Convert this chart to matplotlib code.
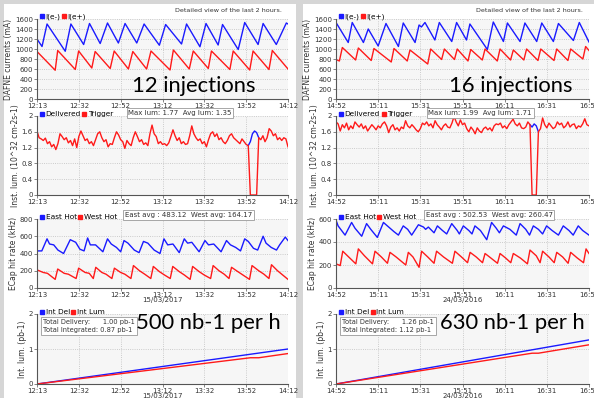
import numpy as np
import matplotlib
matplotlib.use("Agg")
import matplotlib.pyplot as plt
from matplotlib.lines import Line2D
from matplotlib.patches import Rectangle

# ---- x axis (minutes in the 2 h window) ----
tick_min = [0, 20, 40, 60, 80, 100, 120]
left_ticks = ["12:13", "12:32", "12:52", "13:12", "13:32", "13:52", "14:12"]
right_ticks = ["14:52", "15:11", "15:31", "15:51", "16:11", "16:31", "16:51"]
left_date = "15/03/2017"
right_date = "24/03/2016"

# ---- DAFNE currents, 2017 ----
l_ele_t = [0, 2.4, 4.8, 13.5, 16.2, 22.3, 25.1, 30.2, 33.7, 38.9, 42.1, 47.7, 51.2, 58.5,
           61.5, 69.1, 71.5, 77.9, 80.8, 86.6, 88.7, 96.2, 99.3, 105.7, 108.1, 114.4, 119.2, 120]
l_ele_v = [1200, 1050, 1500, 955, 1500, 1090, 1510, 1110, 1520, 1120, 1510, 1120, 1500, 1075,
           1490, 1100, 1500, 1045, 1510, 1080, 1490, 990, 1530, 1090, 1510, 1090, 1520, 1500]
l_pos_t = [0, 8.7, 9.9, 18.3, 19.9, 26.2, 27.8, 35.0, 36.9, 43.7, 45.8, 52.4, 54.5, 63.6,
           65.2, 72.8, 74.7, 81.9, 83.4, 92.2, 93.8, 101.7, 103.3, 110.9, 112.5, 120]
l_pos_v = [950, 575, 970, 590, 960, 620, 950, 610, 960, 600, 950, 600, 960, 580,
           980, 600, 960, 610, 960, 590, 960, 580, 960, 590, 970, 600]

# ---- DAFNE currents, 2016 ----
r_ele_t = [0, 5.8, 7.7, 13.0, 15.3, 20.0, 23.7, 29.6, 31.9, 37.5, 39.4, 40.5, 42.2, 46.9, 49.0,
           54.9, 57.2, 61.9, 63.5, 71.8, 74.6, 79.4, 81.3, 87.3, 89.6, 95.2, 97.6, 103.1, 105.5,
           112.6, 115.4, 120]
r_ele_v = [1530, 1130, 1530, 1130, 1400, 1060, 1510, 1050, 1520, 1130, 1480, 1440, 1530, 1180, 1530,
           1150, 1530, 1180, 1500, 990, 1540, 1150, 1520, 1150, 1520, 1150, 1520, 1150, 1510,
           1170, 1530, 1140]
r_pos_t = [0, 1.6, 3.0, 9.3, 10.6, 16.7, 18.0, 26.2, 27.5, 33.8, 35.1, 43.5, 44.9, 50.1, 51.4,
           56.2, 57.5, 62.6, 63.9, 69.4, 70.7, 76.5, 77.8, 82.8, 84.1, 89.1, 90.4, 95.8, 97.1,
           103.4, 104.7, 110.0, 111.3, 117.1, 118.4, 120]
r_pos_v = [790, 760, 1030, 780, 1020, 770, 1010, 740, 1010, 760, 980, 700, 1000, 790, 1000,
           790, 1000, 760, 990, 780, 1000, 760, 1000, 780, 980, 780, 1000, 770, 1000,
           770, 1000, 770, 1000, 800, 1050, 970]

# ---- instantaneous luminosity, one value per minute ----
l_lum = [1.62, 1.45, 1.42, 1.38, 1.44, 1.30, 1.35, 1.22, 1.28, 1.15, 1.30, 1.55, 1.48, 1.40, 1.45,
         1.32, 1.38, 1.25, 1.42, 1.20, 1.48, 1.62, 1.50, 1.38, 1.42, 1.30, 1.35, 1.25, 1.40, 1.55,
         1.60, 1.45, 1.35, 1.40, 1.22, 1.30, 1.28, 1.45, 1.60, 1.52, 1.40, 1.35, 1.18, 1.38, 1.30,
         1.25, 1.45, 1.60, 1.48, 1.35, 1.40, 1.28, 1.32, 1.25, 1.55, 1.77, 1.55, 1.48, 1.30, 1.35,
         1.28, 1.30, 1.25, 1.32, 1.48, 1.65, 1.50, 1.38, 1.45, 1.30, 1.35, 1.28, 1.30, 1.50, 1.75,
         1.55, 1.45, 1.38, 1.42, 1.30, 1.35, 1.22, 1.40, 1.55, 1.60, 1.48, 1.55, 1.40, 1.45, 1.35,
         1.30, 1.38, 1.50, 1.55, 1.45, 1.40, 1.35, 1.30, 1.42, 1.35, 1.28, 1.25, 1.35, 1.55, 1.62,
         1.58, 1.45, 1.40, 1.50, 1.35, 1.45, 1.68, 1.62, 1.50, 1.55, 1.40, 1.45, 1.38, 1.45, 1.42,
         1.22]
l_trig_off = [102, 103, 104, 105]
r_lum = [1.85, 1.80, 1.62, 1.78, 1.70, 1.82, 1.65, 1.75, 1.68, 1.85, 1.78, 1.72, 1.80, 1.68, 1.75,
         1.62, 1.70, 1.78, 1.72, 1.65, 1.75, 1.70, 1.80, 1.85, 1.75, 1.58, 1.72, 1.78, 1.65, 1.70,
         1.62, 1.72, 1.68, 1.88, 1.75, 1.70, 1.78, 1.72, 1.65, 1.60, 1.68, 1.82, 1.78, 1.85, 1.75,
         1.80, 1.70, 1.88, 1.78, 1.72, 1.65, 1.75, 1.80, 1.72, 1.70, 1.82, 1.99, 1.85, 1.75, 1.90,
         1.78, 1.82, 1.68, 1.60, 1.72, 1.65, 1.55, 1.70, 1.62, 1.58, 1.68, 1.72, 1.65, 1.70, 1.62,
         1.75, 1.80, 1.78, 1.82, 1.70, 1.75, 1.68, 1.78, 1.85, 1.92, 1.80, 1.75, 1.82, 1.70, 1.68,
         1.72, 1.85, 1.78, 1.72, 1.80, 1.75, 1.60, 1.68, 1.95, 1.78, 1.70, 1.82, 1.75, 1.68, 1.72,
         1.85, 1.78, 1.82, 1.70, 1.75, 1.85, 1.72, 1.78, 1.80, 1.68, 1.75, 1.72, 1.80, 1.93, 1.78,
         1.75]
r_trig_off = [93, 94, 95]

# ---- ECap hit rates ----
l_east = [(0, 430), (2.3, 430), (4.8, 570), (6, 510), (8, 500), (10, 440), (12.7, 400), (15.9, 560),
          (18.5, 530), (20.5, 450), (22.5, 430), (24.2, 580), (25.5, 500), (28, 500), (31.5, 420),
          (33.7, 570), (35.5, 510), (38, 470), (40, 420), (41.6, 550), (43.5, 520), (46.5, 440),
          (48.8, 410), (50.9, 540), (53, 520), (56, 440), (58.8, 400), (60.7, 570), (62.5, 500),
          (65, 510), (68, 410), (70.4, 570), (72, 520), (74, 530), (77.5, 420), (80.3, 550),
          (82, 500), (84.5, 510), (88, 420), (90.6, 550), (92.5, 500), (95, 470), (97.3, 430),
          (99.3, 570), (101, 540), (103.5, 460), (105.5, 440), (108.1, 600), (109.5, 520),
          (112, 470), (114.5, 440), (116, 500), (118.7, 590), (120, 550)]
l_west = [(0, 210), (3, 180), (5, 170), (8.7, 100), (9.9, 220), (13, 170), (15, 160), (18.7, 110),
          (19.9, 230), (23, 180), (25, 170), (26.9, 110), (28.1, 240), (31, 180), (33, 160),
          (35.8, 110), (37, 230), (40, 180), (42, 160), (44.9, 110), (46.1, 260), (49, 200),
          (51.5, 160), (54.4, 110), (55.6, 250), (58.5, 190), (61, 150), (63.7, 110), (64.9, 250),
          (68, 190), (70.5, 150), (73.2, 100), (74.4, 250), (77.5, 190), (80, 150), (83, 110),
          (84.2, 260), (87, 200), (89.5, 160), (91.8, 110), (93, 240), (96, 190), (98.5, 150),
          (101.6, 100), (102.8, 260), (106, 200), (108.5, 160), (110.9, 110), (112.1, 270),
          (115, 200), (118, 140), (120, 100)]
r_east = [(0, 590), (1, 540), (4.3, 460), (7.4, 570), (9, 520), (12.2, 450), (14.5, 560), (16.5, 510),
          (19.6, 440), (22.5, 570), (25, 530), (27.5, 490), (29.6, 460), (31.9, 540), (34, 510),
          (35.9, 460), (39.1, 550), (41.5, 530), (42.5, 510), (43.8, 530), (46.5, 480), (48.1, 540),
          (50.5, 500), (52.5, 470), (54.9, 560), (57.5, 500), (58.5, 470), (60.4, 540), (63, 500),
          (64.5, 470), (65.9, 540), (68.5, 500), (71.5, 420), (73.8, 570), (76, 520), (77.5, 480),
          (79.4, 540), (82.5, 510), (85.5, 460), (87.3, 560), (90, 510), (91.8, 460), (93.6, 540),
          (96, 510), (98, 470), (99.9, 540), (102.5, 500), (105.5, 460), (107.8, 540), (110.5, 500),
          (112.5, 460), (114.9, 540), (117, 500), (120, 460)]
r_west = [(0, 210), (2, 195), (3.2, 320), (6, 270), (9.4, 210), (10.6, 340), (13.5, 280), (17.3, 210),
          (18.5, 320), (21.5, 270), (24.4, 215), (25.6, 310), (28.5, 270), (33.1, 200), (34.3, 310),
          (36.5, 270), (39.4, 180), (40.6, 320), (43.5, 270), (46.5, 215), (47.7, 320), (51, 270),
          (55.2, 215), (56.4, 320), (59.5, 270), (62.4, 220), (63.6, 310), (66.5, 270), (69.5, 220),
          (70.7, 300), (73.5, 260), (76.6, 215), (77.8, 300), (80.5, 260), (82.9, 220), (84.1, 300),
          (87.5, 260), (90.8, 210), (92, 330), (95, 280), (96.8, 220), (98, 320), (101, 270),
          (103.5, 220), (104.7, 310), (107.5, 270), (110.1, 215), (111.3, 310), (114.5, 260),
          (117.4, 220), (118.6, 340), (120, 300)]

# ---- integrated luminosity ----
l_del_t, l_del_v = [0, 120], [0, 1.00]
l_int_t, l_int_v = [0, 102, 106, 120], [0, 0.75, 0.75, 0.87]
r_del_t, r_del_v = [0, 120], [0, 1.26]
r_int_t, r_int_v = [0, 93, 96, 120], [0, 0.88, 0.88, 1.12]

BLUE = "#1a1aff"
RED = "#ff1a1a"
W, H = 594, 398


def px_axes(fig, x0, x1, top, bot):
    return fig.add_axes([x0 / W, 1 - bot / H, (x1 - x0) / W, (bot - top) / H])


def style(ax, ylim, yticks, ylabels, xlabels, ylab, date=None):
    ax.set_facecolor("#f6f6f6")
    ax.set_xlim(0, 120)
    ax.set_ylim(*ylim)
    ax.set_xticks(tick_min)
    ax.set_xticklabels(xlabels)
    ax.set_yticks(yticks)
    ax.set_yticklabels(ylabels)
    ax.grid(True, color="#bdbdbd", linestyle=":", linewidth=0.6)
    for s in ["top", "right"]:
        ax.spines[s].set_visible(False)
    for s in ["left", "bottom"]:
        ax.spines[s].set_color("#555555")
        ax.spines[s].set_linewidth(0.8)
    ax.tick_params(labelsize=5, length=2, width=0.5, pad=1, colors="#555555", labelcolor="#333333")
    ax.set_ylabel(ylab, fontsize=5.5, labelpad=1, color="#333333")
    if date:
        ax.set_xlabel(date, fontsize=5, labelpad=-1, color="#333333")


def legend(ax, names):
    hs = [Line2D([], [], marker="s", color=c, linestyle="None", markersize=2.8) for c in (BLUE, RED)]
    ax.legend(hs, names, loc="center left", bbox_to_anchor=(0.015, 1.025), frameon=False, ncol=2,
              handlelength=0.4, handletextpad=0.25, columnspacing=0.3, fontsize=5.3, borderpad=0,
              borderaxespad=0.0)


def box(ax, x, y, txt):
    ax.text(x, y, txt, transform=ax.transAxes, ha="center", va="center", fontsize=5, color="#333333",
            bbox=dict(boxstyle="square,pad=0.25", fc="white", ec="#999999", lw=0.6), zorder=5)


fig = plt.figure(figsize=(W / 100, H / 100), dpi=100)
fig.patch.set_facecolor("#d6d6d6")
for cx, cw in [(4, 292), (303, 291)]:
    fig.patches.append(Rectangle((cx / W, 0), cw / W, 394 / H, transform=fig.transFigure,
                                 fc="white", ec="none", zorder=-10))

cols = [
    dict(x0=37, x1=288, xl=left_ticks, date=left_date, ele=(l_ele_t, l_ele_v), pos=(l_pos_t, l_pos_v),
         lum=l_lum, off=l_trig_off, lbox="Max lum: 1.77  Avg lum: 1.35", east=l_east, west=l_west,
         emax=800, ebox="East avg : 483.12  West avg: 164.17", dl=(l_del_t, l_del_v), il=(l_int_t, l_int_v),
         ibox="Total Delivery:      1.00 pb-1\nTotal Integrated: 0.87 pb-1",
         big1="12 injections", big2="500 nb-1 per h", b1x=194, b2x=208),
    dict(x0=336, x1=589, xl=right_ticks, date=right_date, ele=(r_ele_t, r_ele_v), pos=(r_pos_t, r_pos_v),
         lum=r_lum, off=r_trig_off, lbox="Max lum: 1.99  Avg lum: 1.71", east=r_east, west=r_west,
         emax=600, ebox="East avg : 502.53  West avg: 260.47", dl=(r_del_t, r_del_v), il=(r_int_t, r_int_v),
         ibox="Total Delivery:      1.26 pb-1\nTotal Integrated: 1.12 pb-1",
         big1="16 injections", big2="630 nb-1 per h", b1x=511, b2x=512),
]

for c in cols:
    # currents
    ax = px_axes(fig, c["x0"], c["x1"], 19, 99)
    style(ax, (0, 1600), range(0, 1601, 200), [str(v) for v in range(0, 1601, 200)], c["xl"],
          "DAFNE currents (mA)")
    ax.plot(*c["ele"], color=BLUE, lw=1.0)
    ax.plot(*c["pos"], color=RED, lw=1.0)
    legend(ax, ["I(e-)", "I(e+)"])
    fig.text((c["x1"] - 6) / W, 1 - 11 / H, "Detailed view of the last 2 hours.", fontsize=4.6,
             ha="right", va="center", color="#333333")
    fig.text(c["b1x"] / W, 1 - 86 / H, c["big1"], fontsize=15.8, family="Lato", ha="center", va="center",
             zorder=6)

    # instantaneous luminosity
    ax = px_axes(fig, c["x0"], c["x1"], 116, 195)
    style(ax, (0, 2), [0, 0.4, 0.8, 1.2, 1.6, 2], ["0", "0.4", "0.8", "1.2", "1.6", "2"], c["xl"],
          "Inst. lum. (10^32 cm-2s-1)")
    mins = np.arange(len(c["lum"]))
    trig = [0 if i in c["off"] else v for i, v in enumerate(c["lum"])]
    # delivered shows only where the trigger curve leaves it
    near = [any(abs(i - j) <= 1 for j in c["off"]) for i in mins]
    deliv = [v if n else np.nan for v, n in zip(c["lum"], near)]
    ax.plot(mins, deliv, color=BLUE, lw=1.0)
    ax.plot(mins, trig, color=RED, lw=1.0)
    legend(ax, ["Delivered", "Trigger"])
    box(ax, 0.57, 1.04, c["lbox"])

    # ECap hit rate
    ax = px_axes(fig, c["x0"], c["x1"], 219, 288)
    ev = list(range(0, c["emax"] + 1, 200))
    style(ax, (0, c["emax"]), ev, [str(v) for v in ev], c["xl"], "ECap hit rate (kHz)", c["date"])
    ax.plot([p[0] for p in c["east"]], [p[1] for p in c["east"]], color=BLUE, lw=1.0)
    ax.plot([p[0] for p in c["west"]], [p[1] for p in c["west"]], color=RED, lw=1.0)
    legend(ax, ["East Hot", "West Hot"])
    box(ax, 0.605, 1.055, c["ebox"])

    # integrated luminosity
    ax = px_axes(fig, c["x0"], c["x1"], 314, 384)
    style(ax, (0, 2), [0, 1, 2], ["0", "1", "2"], c["xl"], "Int. lum. (pb-1)", c["date"])
    ax.plot(*c["dl"], color=BLUE, lw=1.0)
    ax.plot(*c["il"], color=RED, lw=1.0)
    legend(ax, ["Int Del", "Int Lum"])
    ax.text(0.025, 0.93, c["ibox"], transform=ax.transAxes, ha="left", va="top", fontsize=4.8,
            color="#333333", linespacing=1.5,
            bbox=dict(boxstyle="square,pad=0.3", fc="white", ec="#999999", lw=0.6), zorder=5)
    fig.text(c["b2x"] / W, 1 - 323 / H, c["big2"], fontsize=15.8, family="Lato", ha="center", va="center",
             zorder=6)

fig.savefig("out.png", dpi=100)
